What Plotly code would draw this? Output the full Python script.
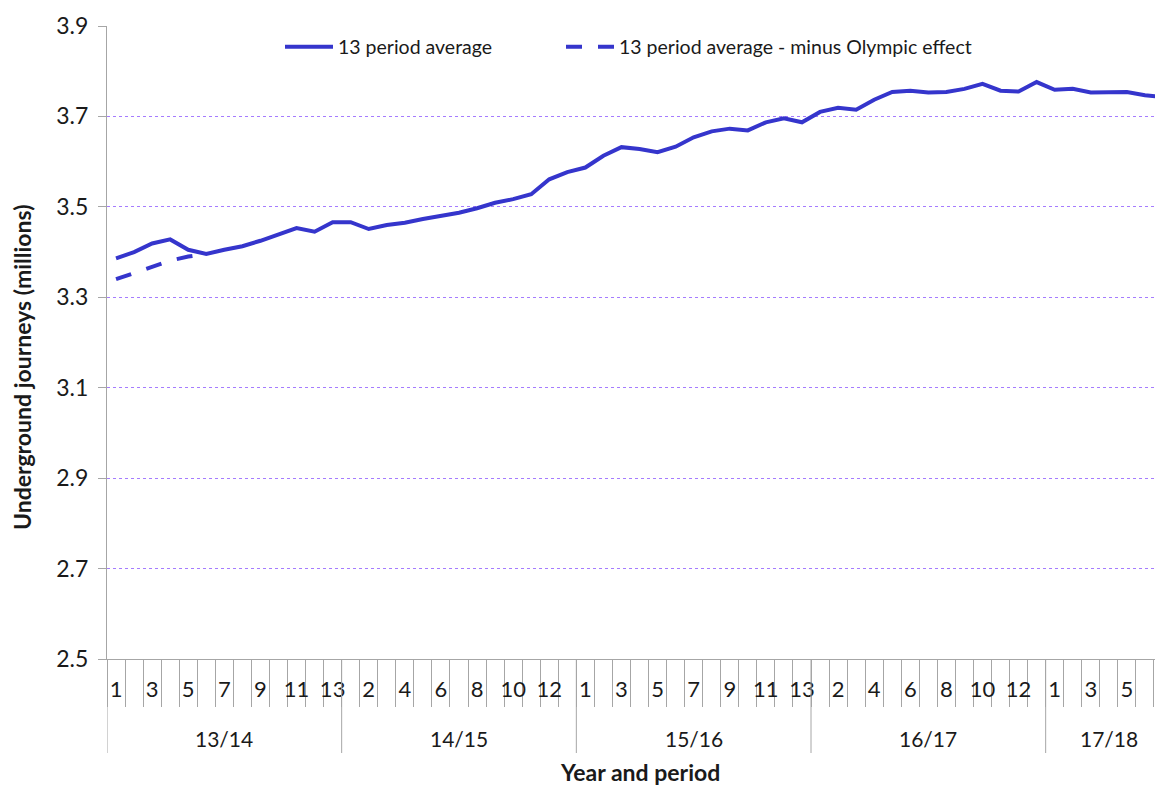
import plotly.graph_objects as go

years = ["13/14", "14/15", "15/16", "16/17", "17/18"]
periods_per_year = [13, 13, 13, 13, 7]

avg_13 = [
    3.386, 3.400, 3.419, 3.428, 3.405, 3.396, 3.405, 3.413, 3.425, 3.440, 3.453, 3.445, 3.466,
    3.466, 3.451, 3.460, 3.465, 3.473, 3.480, 3.487, 3.497, 3.509, 3.517, 3.528, 3.561, 3.577,
    3.587, 3.613, 3.632, 3.628, 3.621, 3.633, 3.654, 3.667, 3.673, 3.669, 3.687, 3.696, 3.687,
    3.710, 3.719, 3.715, 3.737, 3.754, 3.757, 3.753, 3.754, 3.761, 3.772, 3.757, 3.755, 3.776,
    3.759, 3.761, 3.753, 3.753, 3.754, 3.747, 3.743,
]
avg_minus_olympic = [3.340, 3.353, 3.368, 3.381, 3.390, 3.396]

period_labels = [str(p) for n in periods_per_year for p in range(1, n + 1)]
idx = list(range(len(period_labels)))

FONT = "Lato"
LINE = "#3535CC"
GRID = "#A57CFF"
AXC = "#A6A6A6"
TXT = "#1a1a1a"

# page has an 8px body margin: figure coordinates = screen - 8
W, H = 1155, 777
L, T = 99, 18
PW, PH = 1056, 633
B = H - T - PH


def px(xs):  # screen x -> paper x
    return (xs - 8 - L) / PW


def py(ys):  # screen y -> paper y
    return (T + PH - (ys - 8)) / PH


fig = go.Figure()
fig.add_trace(go.Scatter(x=idx, y=avg_13, mode="lines", name="13 period average",
                         line=dict(color=LINE, width=4), legend="legend"))
fig.add_trace(go.Scatter(x=idx[:len(avg_minus_olympic)], y=avg_minus_olympic, mode="lines",
                         name="13 period average - minus Olympic effect",
                         line=dict(color=LINE, width=4, dash="16px,16px"), legend="legend2"))

tickvals = idx[::2]
ticktext = [period_labels[i] for i in tickvals]

shapes = []
annotations = []
start = 0
bounds = []
for n in periods_per_year:
    bounds.append((start, start + n))
    start += n
last = len(idx) - 1
for (a, b), y in zip(bounds, years):
    shapes.append(dict(type="line", xref="x", yref="paper", x0=a - 0.5, x1=a - 0.5,
                       y0=0, y1=py(753), line=dict(color=AXC, width=1)))
    b_vis = min(b - 0.5, last + 0.5)
    annotations.append(dict(x=(a - 0.5 + b_vis) / 2, y=py(738), xref="x", yref="paper",
                            text=y, showarrow=False, font=dict(family=FONT, size=21, color=TXT),
                            xanchor="center", yanchor="middle"))

annotations.append(dict(x=px(22), y=py(368), xref="paper", yref="paper",
                        text="Underground journeys (millions)", textangle=-90, showarrow=False,
                        font=dict(family=FONT, size=23, color=TXT, weight="bold"),
                        xanchor="center", yanchor="middle"))
annotations.append(dict(x=px(640), y=py(772), xref="paper", yref="paper",
                        text="Year and period", showarrow=False,
                        font=dict(family=FONT, size=23, color=TXT, weight="bold"),
                        xanchor="center", yanchor="middle"))

legend_common = dict(orientation="h", yanchor="middle", xanchor="left",
                     font=dict(family=FONT, size=19.5, color=TXT),
                     bgcolor="rgba(0,0,0,0)", itemwidth=48)

fig.update_layout(
    width=W, height=H, autosize=False,
    margin=dict(l=L, r=0, t=T, b=B, autoexpand=False),
    paper_bgcolor="white", plot_bgcolor="white",
    font=dict(family=FONT, color=TXT),
    showlegend=True,
    legend=dict(x=px(280), y=py(47), **legend_common),
    legend2=dict(x=px(561), y=py(47), **legend_common),
    shapes=shapes,
    annotations=annotations,
    xaxis=dict(range=[-0.5, last], tickmode="array", tickvals=tickvals, ticktext=ticktext,
               automargin=False, ticklabeloverflow="allow",
               showgrid=False, zeroline=False, showline=True, linecolor=AXC, linewidth=1,
               ticks="", ticklabelstandoff=11, tickfont=dict(family=FONT, size=22, color=TXT),
               minor=dict(ticks="outside", ticklen=47, tickcolor=AXC, tickwidth=1,
                          tickmode="linear", tick0=-0.5, dtick=1, showgrid=False)),
    yaxis=dict(range=[2.5, 3.9], tickmode="linear", tick0=2.5, dtick=0.2, tickformat=".1f",
               automargin=False,
               showgrid=True, gridcolor=GRID, griddash="dot", gridwidth=1, zeroline=False,
               showline=True, linecolor=AXC, linewidth=1, ticks="outside", ticklen=8,
               tickcolor=AXC, ticklabelstandoff=5,
               tickfont=dict(family=FONT, size=23, color=TXT)),
)

fig.write_html("out.html")
